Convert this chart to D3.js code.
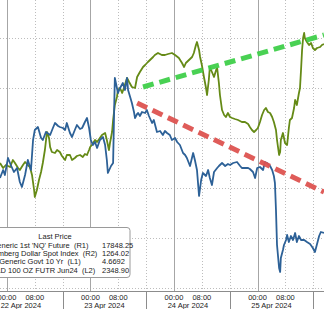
<!DOCTYPE html>
<html>
<head>
<meta charset="utf-8">
<script src="https://d3js.org/d3.v7.min.js"></script>
<style>
  html, body { margin: 0; padding: 0; background: #fff; }
  svg { display: block; font-family: "Liberation Sans", Arial, sans-serif; }
</style>
</head>
<body>
<svg id="chart" width="324" height="309"></svg>
<script>
// hours after 22 Apr 2024 00:00, value
const nqFuture = [
  [-2.0,17620],[-1.1,17636],[-0.6,17626],[0.3,17660],[1.1,17646],[2.0,17632],[2.9,17640],[3.7,17612],
  [4.3,17602],[5.2,17626],[6.0,17656],[6.9,17636],[7.5,17696],[8.0,17716],[8.9,17722],[9.8,17700],
  [10.3,17696],[11.2,17712],[12.4,17706],[13.2,17720],[13.8,17730],[14.7,17724],[15.2,17722],[16.1,17720],
  [16.7,17716],[17.2,17730],[18.1,17710],[18.7,17702],[19.5,17716],[20.1,17726],[21.0,17718],[21.6,17720],
  [22.4,17732],[23.0,17740],[23.6,17720],[24.1,17696],[24.7,17686],[25.3,17692],[25.9,17680],[26.7,17696],
  [27.6,17702],[28.2,17686],[28.7,17656],[29.0,17630],[29.9,17644],[30.5,17650],[30.8,17756],[31.0,17820],
  [31.6,17800],[31.9,17790],[32.5,17800],[33.3,17810],[33.9,17796],[34.5,17820],[34.8,17796],[35.4,17782],
  [35.9,17770],[36.5,17752],[36.8,17740],[37.4,17748],[37.7,17750],[38.2,17744],[38.8,17752],[39.7,17750],
  [40.2,17756],[40.8,17744],[41.7,17730],[42.2,17736],[43.1,17712],[44.0,17714],[44.8,17706],[45.4,17714],
  [46.0,17710],[46.8,17706],[47.4,17696],[48.3,17700],[48.9,17692],[49.7,17686],[50.6,17670],[51.2,17666],
  [51.7,17660],[52.6,17644],[53.5,17670],[54.0,17656],[54.6,17636],[55.2,17584],[55.8,17616],[56.3,17630],
  [57.2,17624],[57.8,17636],[58.3,17620],[58.9,17606],[59.5,17632],[60.4,17640],[60.9,17644],[61.8,17650],
  [62.7,17644],[63.5,17648],[64.1,17646],[65.0,17650],[66.1,17652],[67.0,17644],[67.5,17640],[68.4,17640],
  [69.3,17640],[69.8,17638],[70.7,17632],[71.3,17620],[71.9,17640],[72.7,17642],[73.6,17636],[74.1,17652],
  [74.7,17650],[75.6,17644],[76.2,17636],[76.7,17624],[77.0,17610],[77.3,17556],[77.6,17486],[78.2,17440],
  [78.5,17432],[78.7,17460],[79.3,17476],[79.6,17486],[80.2,17496],[80.5,17506],[81.0,17492],[81.6,17504],
  [82.2,17496],[82.8,17510],[83.3,17492],[83.9,17504],[84.5,17496],[85.4,17496],[86.2,17492],[87.1,17488],
  [87.9,17480],[88.5,17472],[89.1,17488],[89.7,17504],[90.2,17512],[91.1,17510]
];

const govt10y = [
  [-2.0,4.625],[-1.1,4.620],[-0.3,4.623],[0.9,4.621],[1.7,4.628],[2.3,4.625],[3.2,4.620],[3.7,4.618],
  [4.6,4.623],[5.2,4.626],[6.0,4.623],[6.6,4.621],[7.2,4.613],[7.8,4.598],[8.0,4.591],[8.6,4.598],
  [9.2,4.608],[9.8,4.616],[10.3,4.625],[10.9,4.638],[11.5,4.656],[12.1,4.650],[12.4,4.641],[12.9,4.636],
  [13.8,4.635],[14.4,4.638],[15.2,4.636],[15.8,4.632],[16.7,4.628],[17.2,4.633],[18.1,4.633],[18.7,4.628],
  [19.5,4.630],[20.1,4.632],[21.0,4.633],[21.8,4.631],[22.4,4.634],[23.0,4.633],[23.6,4.638],[23.9,4.641],
  [24.4,4.643],[25.3,4.648],[25.9,4.646],[26.7,4.650],[27.3,4.653],[28.2,4.655],[28.7,4.648],[29.3,4.638],
  [29.6,4.645],[30.2,4.656],[30.5,4.668],[31.0,4.683],[31.6,4.691],[31.9,4.698],[32.5,4.700],[33.1,4.695],
  [33.6,4.700],[34.5,4.710],[35.1,4.706],[35.9,4.701],[36.8,4.700],[37.4,4.711],[38.2,4.716],[39.1,4.721],
  [39.7,4.723],[40.5,4.726],[41.1,4.728],[42.0,4.731],[42.5,4.733],[43.4,4.735],[44.5,4.733],[45.4,4.733],
  [46.3,4.734],[47.4,4.735],[48.3,4.733],[49.4,4.730],[50.3,4.725],[50.9,4.721],[51.4,4.725],[52.3,4.728],
  [53.2,4.731],[53.7,4.735],[54.3,4.743],[54.6,4.746],[55.2,4.738],[55.5,4.731],[56.0,4.723],[56.6,4.711],
  [57.2,4.700],[57.5,4.693],[58.0,4.708],[58.3,4.721],[58.9,4.716],[59.5,4.711],[60.1,4.718],[60.4,4.720],
  [60.9,4.705],[61.2,4.693],[61.8,4.678],[62.4,4.673],[62.9,4.671],[63.5,4.675],[64.1,4.671],[64.7,4.670],
  [65.5,4.669],[66.4,4.668],[67.5,4.666],[68.4,4.666],[69.3,4.664],[69.8,4.661],[70.4,4.658],[71.0,4.656],
  [71.6,4.658],[72.1,4.660],[72.7,4.666],[73.3,4.673],[73.9,4.678],[74.4,4.680],[75.0,4.676],[75.6,4.675],
  [76.2,4.671],[76.7,4.666],[77.3,4.658],[77.6,4.648],[78.2,4.633],[78.5,4.636],[78.7,4.648],[79.3,4.655],
  [79.9,4.645],[80.5,4.643],[81.0,4.660],[81.3,4.668],[81.9,4.670],[82.5,4.680],[82.8,4.688],[83.3,4.683],
  [83.9,4.695],[84.2,4.700],[84.5,4.718],[84.8,4.738],[85.1,4.750],[85.4,4.755],[85.6,4.750],[86.2,4.746],
  [86.8,4.743],[87.4,4.745],[87.9,4.740],[88.5,4.738],[89.1,4.740],[90.0,4.741],[90.5,4.743],[91.1,4.744]
];

// trend lines drawn on the chart
const yieldTrend = [[39.1, 4.701], [91.1, 4.753]];
const nqTrend = [[37.4, 17770], [91.1, 17592]];

const legendTitle = "Last Price";
const legendNames = ["Generic 1st 'NQ' Future  (R1)", "Bloomberg Dollar Spot Index  (R2)",
                     "Generic Govt 10 Yr  (L1)", "GOLD 100 OZ FUTR Jun24  (L2)"];
const legendValues = ["17848.25", "1264.02", "4.6692", "2348.90"];
const dayLabels = ["22 Apr 2024", "23 Apr 2024", "24 Apr 2024", "25 Apr 2024"];

const W = 324, H = 309, plotBottom = 291;
const day0 = new Date(2024, 3, 22);
const t = h => new Date(day0.getTime() + h * 3600e3);

const x = d3.scaleTime().domain([t(-2.0), t(91.1)]).range([0, W]);
const yL = d3.scaleLinear().domain([4.50, 4.75]).range([288, 38]);
const yR = d3.scaleLinear().domain([17400, 17900]).range([288, 38]);

const svg = d3.select("#chart");
svg.append("rect").attr("width", W).attr("height", H).attr("fill", "#fff");

svg.append("defs").append("clipPath").attr("id", "plot")
  .append("rect").attr("x", 0).attr("y", 0).attr("width", W).attr("height", plotBottom);

// horizontal grid
svg.append("g").selectAll("line").data(yL.ticks(5)).join("line")
  .attr("x1", 0).attr("x2", W)
  .attr("y1", d => Math.round(yL(d)) + 0.5).attr("y2", d => Math.round(yL(d)) + 0.5)
  .attr("stroke", "#bdbdbd").attr("stroke-dasharray", "1,2");

// vertical grid: solid at midnight, dotted at 08:00 and 16:00
const hourTicks = d3.timeHour.every(8).range(x.domain()[0], x.domain()[1]);
svg.append("g").selectAll("line").data(hourTicks).join("line")
  .attr("x1", d => Math.round(x(d)) + 0.5).attr("x2", d => Math.round(x(d)) + 0.5)
  .attr("y1", 0).attr("y2", plotBottom)
  .attr("stroke", d => d.getHours() === 0 ? "#a6a6a6" : "#bdbdbd")
  .attr("stroke-width", 1)
  .attr("stroke-dasharray", d => d.getHours() === 0 ? null : "1,2");

const g = svg.append("g").attr("clip-path", "url(#plot)");

const lineL = d3.line().x(d => x(t(d[0]))).y(d => yL(d[1]));
const lineR = d3.line().x(d => x(t(d[0]))).y(d => yR(d[1]));

g.append("path").datum(govt10y).attr("d", lineL)
  .attr("fill", "none").attr("stroke", "#658a16").attr("stroke-width", 1.8)
  .attr("stroke-linejoin", "round");
g.append("path").datum(nqFuture).attr("d", lineR)
  .attr("fill", "none").attr("stroke", "#2d6197").attr("stroke-width", 1.8)
  .attr("stroke-linejoin", "round");

g.append("path").datum(yieldTrend).attr("d", lineL)
  .attr("fill", "none").attr("stroke", "#3fcf4a").attr("stroke-width", 5)
  .attr("stroke-dasharray", "11,6").attr("opacity", 0.95);
g.append("path").datum(nqTrend).attr("d", lineR)
  .attr("fill", "none").attr("stroke", "#dd5350").attr("stroke-width", 5)
  .attr("stroke-dasharray", "11,6").attr("opacity", 0.95);

// legend
const leg = svg.append("g");
leg.append("rect").attr("x", -10).attr("y", 227.5).attr("width", 140).attr("height", 50)
  .attr("rx", 3).attr("fill", "#fff").attr("stroke", "#9a9a9a");
leg.append("text").attr("x", 55).attr("y", 239).attr("text-anchor", "middle")
  .attr("font-size", 7.5).attr("fill", "#222").text(legendTitle);
leg.selectAll("text.nm").data(legendNames).join("text").attr("class", "nm")
  .attr("x", 40).attr("y", (d, i) => 247.5 + i * 8.4).attr("text-anchor", "middle")
  .attr("font-size", 7.5).attr("fill", "#222").attr("xml:space", "preserve").text(d => d);
leg.selectAll("text.val").data(legendValues).join("text").attr("class", "val")
  .attr("x", 102).attr("y", (d, i) => 247.5 + i * 8.4)
  .attr("font-size", 7.5).attr("fill", "#222").text(d => d);

// x axis area
svg.append("line").attr("x1", 0).attr("x2", W).attr("y1", plotBottom + 0.5).attr("y2", plotBottom + 0.5)
  .attr("stroke", "#8c8c8c");
const sepTicks = hourTicks.filter(d => d.getHours() === 16);
svg.append("g").selectAll("line").data(sepTicks).join("line")
  .attr("x1", d => Math.round(x(d)) + 0.5).attr("x2", d => Math.round(x(d)) + 0.5)
  .attr("y1", plotBottom).attr("y2", H).attr("stroke", "#8c8c8c");

const timeTicks = hourTicks.filter(d => d.getHours() !== 16);
svg.append("g").selectAll("text").data(timeTicks).join("text")
  .attr("x", d => x(d)).attr("y", 299.5).attr("text-anchor", "middle")
  .attr("font-size", 7.5).attr("fill", "#222").text(d3.timeFormat("%H:%M"));

const midnights = hourTicks.filter(d => d.getHours() === 0);
svg.append("g").selectAll("text").data(midnights).join("text")
  .attr("x", (d, i) => x(d3.timeHour.offset(d, 4))).attr("y", 307.5).attr("text-anchor", "middle")
  .attr("font-size", 7.5).attr("fill", "#222").text((d, i) => dayLabels[i]);
</script>
</body>
</html>
